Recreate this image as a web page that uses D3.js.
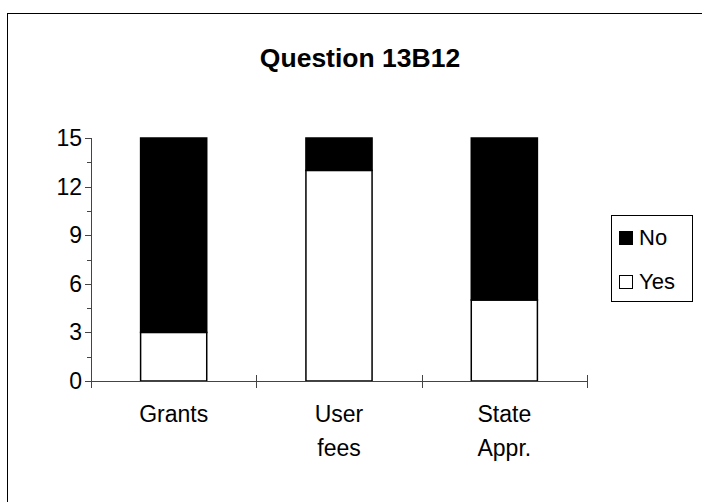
<!DOCTYPE html>
<html>
<head>
<meta charset="utf-8">
<script src="https://cdn.jsdelivr.net/npm/d3@7"></script>
<style>
  body { margin: 0; background: #fff; }
  text { font-family: Arial, "Liberation Sans", sans-serif; }
</style>
</head>
<body>
<script>
// Question 13B12 stacked bars
var categories = ["Grants", "User fees", "State Appr."];
var catLines = [["Grants"], ["User", "fees"], ["State", "Appr."]];
var yesValues = [3, 13, 5];
var noValues = [12, 2, 10];
var seriesNames = ["Yes", "No"];
var legendNames = ["No", "Yes"];
var yTicks = [0, 3, 6, 9, 12, 15];
var yMinorTicks = [1.5, 4.5, 7.5, 10.5, 13.5];

var width = 702;
var height = 502;

var svg = d3.select("body").append("svg")
    .attr("width", width)
    .attr("height", height);

// outer chart border (runs off the right/bottom)
svg.append("rect")
    .attr("x", 7.5)
    .attr("y", 13.5)
    .attr("width", 720)
    .attr("height", 520)
    .attr("fill", "none")
    .attr("stroke", "#000")
    .attr("stroke-width", 1);

svg.append("text")
    .attr("x", 360)
    .attr("y", 67)
    .attr("text-anchor", "middle")
    .attr("font-size", "26.5px")
    .attr("font-weight", "bold")
    .text("Question 13B12");

var x = d3.scaleBand()
    .domain(categories)
    .range([91, 587])
    .padding(0);

var y = d3.scaleLinear()
    .domain([0, 15])
    .range([381, 138]);

var table = categories.map(function(c, i) {
    return { cat: c, Yes: yesValues[i], No: noValues[i] };
});
var stacked = d3.stack().keys(seriesNames)(table);
var fills = { Yes: "#fff", No: "#000" };

var barW = x.bandwidth() * 0.4;

svg.append("g")
  .selectAll("g")
  .data(stacked)
  .enter().append("g")
    .attr("fill", function(d) { return fills[d.key]; })
  .selectAll("rect")
  .data(function(d) { return d; })
  .enter().append("rect")
    .attr("x", function(d) { return x(d.data.cat) + (x.bandwidth() - barW) / 2; })
    .attr("y", function(d) { return y(d[1]); })
    .attr("width", barW)
    .attr("height", function(d) { return y(d[0]) - y(d[1]); })
    .attr("stroke", "#000")
    .attr("stroke-width", 1.5);

// y axis
var yAxis = svg.append("g").attr("stroke", "#444");
yAxis.append("line")
    .attr("x1", 91.5).attr("x2", 91.5)
    .attr("y1", y(15)).attr("y2", y(0));
yAxis.selectAll("line.major")
  .data(yTicks)
  .enter().append("line")
    .attr("class", "major")
    .attr("x1", 85).attr("x2", 91.5)
    .attr("y1", function(d) { return Math.round(y(d)) + 0.5; })
    .attr("y2", function(d) { return Math.round(y(d)) + 0.5; });
yAxis.selectAll("line.minor")
  .data(yMinorTicks)
  .enter().append("line")
    .attr("class", "minor")
    .attr("x1", 87).attr("x2", 91.5)
    .attr("y1", function(d) { return Math.round(y(d)) + 0.5; })
    .attr("y2", function(d) { return Math.round(y(d)) + 0.5; });

svg.append("g")
  .selectAll("text")
  .data(yTicks)
  .enter().append("text")
    .attr("x", 82)
    .attr("y", function(d) { return y(d) + 8; })
    .attr("text-anchor", "end")
    .attr("font-size", "23px")
    .text(function(d) { return d; });

// x axis
var xAxis = svg.append("g").attr("stroke", "#444");
xAxis.append("line")
    .attr("x1", 91).attr("x2", 587)
    .attr("y1", 381.5).attr("y2", 381.5);
var edges = categories.map(function(c) { return x(c); }).concat([x.range()[1]]);
xAxis.selectAll("line.tick")
  .data(edges)
  .enter().append("line")
    .attr("class", "tick")
    .attr("x1", function(d) { return Math.round(d) + 0.5; })
    .attr("x2", function(d) { return Math.round(d) + 0.5; })
    .attr("y1", 375).attr("y2", 388);

var catG = svg.append("g")
  .selectAll("text")
  .data(categories)
  .enter().append("text")
    .attr("x", function(d) { return x(d) + x.bandwidth() / 2; })
    .attr("y", 422)
    .attr("text-anchor", "middle")
    .attr("font-size", "23px");
catG.selectAll("tspan")
  .data(function(d, i) { return catLines[i]; })
  .enter().append("tspan")
    .attr("x", function() { var p = this.parentNode; return p.getAttribute("x"); })
    .attr("dy", function(d, i) { return i === 0 ? 0 : 34; })
    .text(function(d) { return d; });

// legend
var legend = svg.append("g");
legend.append("rect")
    .attr("x", 611.5).attr("y", 215.5)
    .attr("width", 81).attr("height", 86)
    .attr("fill", "#fff")
    .attr("stroke", "#000");
var items = legend.selectAll("g.item")
  .data(legendNames)
  .enter().append("g")
    .attr("class", "item")
    .attr("transform", function(d, i) { return "translate(619," + (231 + i * 44) + ")"; });
items.append("rect")
    .attr("x", 0.5).attr("y", 0.5)
    .attr("width", 13).attr("height", 13)
    .attr("fill", function(d) { return fills[d]; })
    .attr("stroke", "#000");
items.append("text")
    .attr("x", 20)
    .attr("y", 14)
    .attr("font-size", "22px")
    .text(function(d) { return d; });
</script>
</body>
</html>
